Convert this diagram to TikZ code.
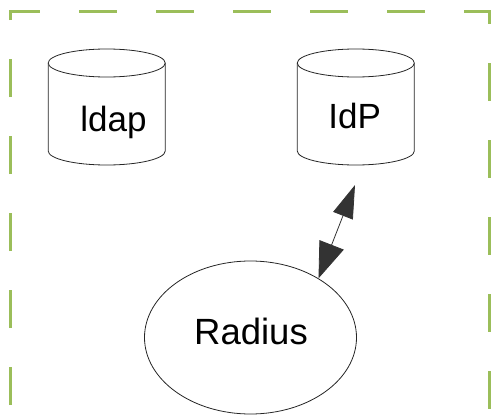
\documentclass[tikz,border=0pt]{standalone}
\usepackage{fontspec}
\setmainfont{Liberation Sans}
\usetikzlibrary{shapes.geometric,arrows.meta}
\definecolor{bordergreen}{RGB}{155,190,90}
\definecolor{edgegray}{RGB}{51,51,51}
\begin{document}
\begin{tikzpicture}[x=1pt,y=1pt,
  outline/.style={draw=black!85, line width=0.8pt, fill=white},
  lbl/.style={font=\fontsize{35}{40}\selectfont, inner sep=0pt, anchor=base},
  dbcyl/.pic={
    \draw[outline] (-58.5,44) -- (-58.5,-44)
      arc[start angle=180,end angle=360,x radius=58.5,y radius=14] -- (58.5,44);
    \draw[outline] (0,44) ellipse[x radius=58.5, y radius=14];
  }]
\useasboundingbox (0,0) rectangle (491,-415);
\draw[bordergreen, line width=3pt, dash pattern=on 38pt off 39pt, dash phase=67pt]
  (10.5,-415) -- (10.5,-11.5) -- (489.5,-11.5) -- (489.5,-415);
% cylinders
\pic at (106.7,-107) {dbcyl};
\pic at (355.8,-107) {dbcyl};
\node[lbl] (ldap) at (113.5,-131.7) {ldap};
\node[lbl] (idp) at (354.7,-128.3) {IdP};
% ellipse
\node[ellipse, outline, minimum width=212pt, minimum height=153pt, inner sep=0pt] (radius) at (250.5,-337.5) {};
\node[lbl, font=\fontsize{36.5}{40}\selectfont] (radiuslabel) at (251,-344) {Radius};
% connector
\coordinate (idptip) at (355,-185);
\draw[edgegray, line width=0.8pt,
  {Triangle[length=36pt,width=26pt]}-{Triangle[length=33pt,width=21pt]}]
  (radius.41.4) -- (idptip);
\end{tikzpicture}
\end{document}
